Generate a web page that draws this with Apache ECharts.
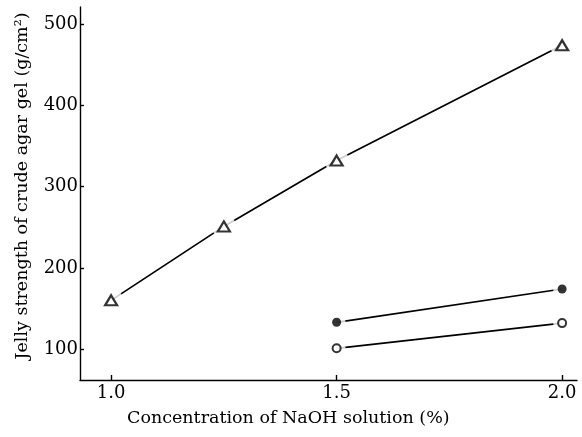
<!DOCTYPE html>
<html><head><meta charset="utf-8">
<script src="https://cdn.jsdelivr.net/npm/echarts@6/dist/echarts.min.js"></script>
<style>html,body{margin:0;padding:0;background:#fff}#c{width:582px;height:437px}</style>
</head><body><div id="c"></div>
<script>
const conc = [1.0, 1.25, 1.5, 2.0];
const triangleVals = [160, 251, 332, 474];
const concB = [1.5, 2.0];
const filledVals = [133, 174];
const openVals = [101, 132];
const yTicks = [100, 200, 300, 400, 500];
const xTicks = [1.0, 1.5, 2.0];
const xTitle = 'Concentration of NaOH solution (%)';
const yTitle = 'Jelly strength of crude agar gel (g/cm\u00B2)';

const pairs = (xs, ys) => xs.map((x, i) => [x, ys[i]]);
const font = 'DejaVu Serif';
const lineS = (d) => ({type:'line', data:d, symbol:'none', lineStyle:{color:'#000', width:1.7}, z:1, silent:true});
const halo = (d, s) => ({type:'scatter', data:d, symbol:'circle', symbolSize:s, itemStyle:{color:'#fff'}, z:2, silent:true});

const chart = echarts.init(document.getElementById('c'), null, {renderer:'canvas'});
chart.setOption({
  animation:false,
  backgroundColor:'#fff',
  grid:{left:80, right:5, top:7, bottom:57},
  xAxis:{type:'value', min:0.931, max:2.033,
    axisLine:{lineStyle:{color:'#000', width:1.4}},
    axisTick:{inside:true, length:5, customValues:xTicks, lineStyle:{color:'#000', width:1.4}},
    axisLabel:{customValues:xTicks, formatter:v=>v.toFixed(1), fontFamily:font, fontSize:18, color:'#000', margin:4},
    splitLine:{show:false}},
  yAxis:{type:'value', min:62, max:521,
    axisLine:{show:true, lineStyle:{color:'#000', width:1.4}},
    axisTick:{show:true, inside:true, length:4, customValues:yTicks, lineStyle:{color:'#000', width:1.4}},
    axisLabel:{customValues:yTicks, fontFamily:font, fontSize:18, color:'#000', margin:2},
    splitLine:{show:false}},
  graphic:[
    {type:'text', left:127, top:409, style:{text:xTitle, font:'17.5px "DejaVu Serif"', fill:'#000'}},
    {type:'text', x:22, y:186, rotation:Math.PI/2, style:{text:yTitle, font:'17.5px "DejaVu Serif"', fill:'#000', align:'center', verticalAlign:'middle'}}
  ],
  series:[
    lineS(pairs(conc, triangleVals)),
    lineS(pairs(concB, filledVals)),
    lineS(pairs(concB, openVals)),
    halo(pairs(conc, triangleVals), 24),
    halo(pairs(concB, filledVals), 18),
    halo(pairs(concB, openVals), 18),
    {type:'scatter', data:pairs(conc, triangleVals), symbol:'triangle', symbolSize:[12,10],
      itemStyle:{color:'#fff', borderColor:'#000', borderWidth:2.2}, z:3},
    {type:'scatter', data:pairs(concB, filledVals), symbol:'circle', symbolSize:9,
      itemStyle:{color:'#000'}, z:3},
    {type:'scatter', data:pairs(concB, openVals), symbol:'circle', symbolSize:8,
      itemStyle:{color:'#fff', borderColor:'#000', borderWidth:2}, z:3}
  ]
});
</script></body></html>
